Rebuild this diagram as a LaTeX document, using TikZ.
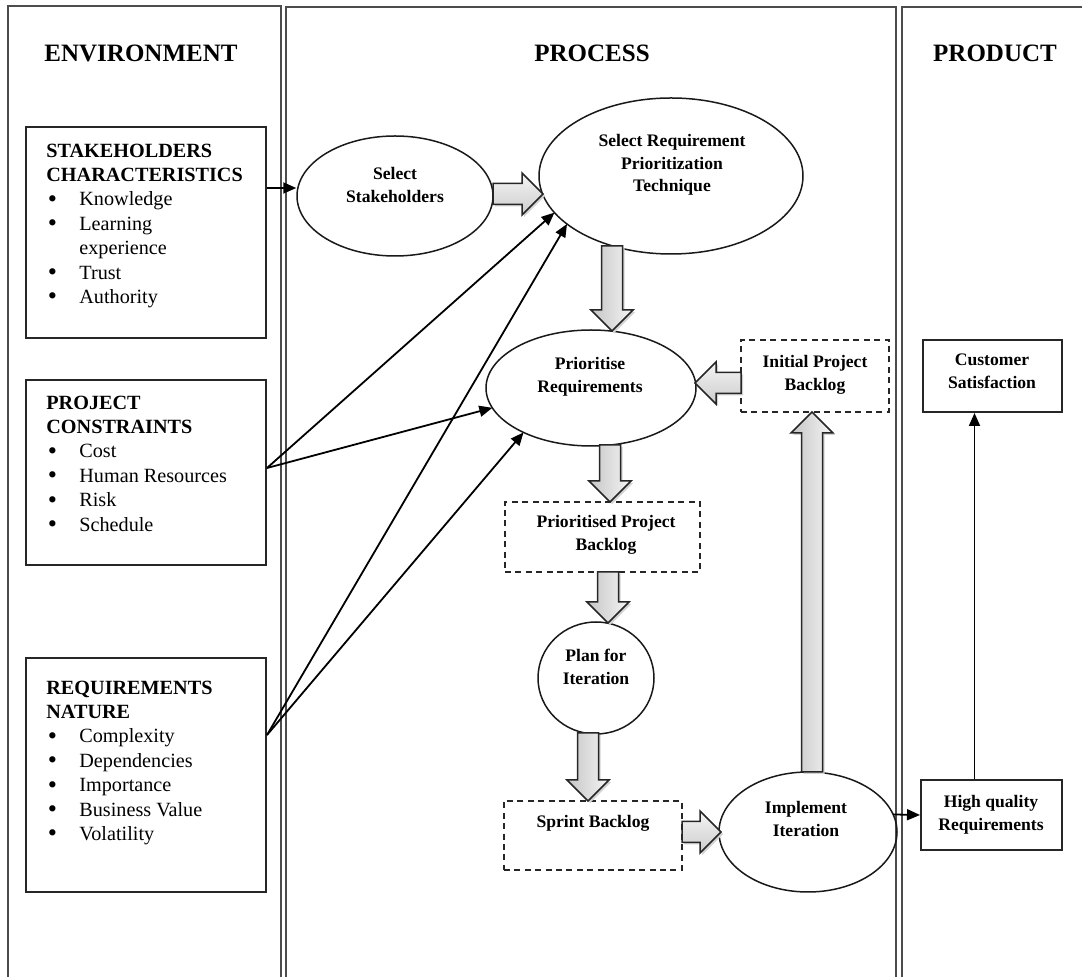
\documentclass[tikz,border=0pt]{standalone}
\usepackage{fontspec}
\setmainfont{Liberation Serif}
\usetikzlibrary{arrows.meta,calc,shapes.geometric,shadows}
\newcommand\bul{\hspace*{0.7pt}\makebox[15.8pt][l]{\raisebox{-0.7pt}{\scalebox{1.3}{\textbullet}}}}
\newcommand\barrow[3]{%
  \coordinate (hb) at ($(#2)!10.5pt!(#1)$);
  \fill[gray!35,transform canvas={shift={(1pt,-1pt)}}] ($(#1)!5.25pt!90:(#2)$) -- ($(hb)!5.25pt!-90:(#1)$) -- ($(hb)!10.5pt!-90:(#1)$) -- (#2) -- ($(hb)!10.5pt!90:(#1)$) -- ($(hb)!5.25pt!90:(#1)$) -- ($(#1)!5.25pt!-90:(#2)$) -- cycle;
  \draw[blockarrow,#3] ($(#1)!5.25pt!90:(#2)$) -- ($(hb)!5.25pt!-90:(#1)$) -- ($(hb)!10.5pt!-90:(#1)$) -- (#2) -- ($(hb)!10.5pt!90:(#1)$) -- ($(hb)!5.25pt!90:(#1)$) -- ($(#1)!5.25pt!-90:(#2)$) -- cycle;}
\tikzset{
 panel/.style={draw=black!70, line width=0.6pt},
 hdr/.style={font=\fontsize{12.5}{15}\selectfont\bfseries, inner sep=0},
 sbox/.style={draw=black!85, line width=1pt, rectangle, inner sep=0, fill=white,
   drop shadow={shadow xshift=0.6pt, shadow yshift=-0.6pt, fill=gray!70, opacity=0.6}},
 dbox/.style={draw=black!85, line width=0.8pt, dash pattern=on 3pt off 2.2pt, rectangle, inner sep=0},
 ell/.style={ellipse, draw=black!90, line width=0.75pt, inner sep=0},
 lbl/.style={font=\fontsize{8.8}{11.3}\selectfont\bfseries, align=center, inner sep=0},
 boxtxt/.style={font=\fontsize{10.1}{12.2}\selectfont, align=left, anchor=north west, inner sep=0},
 conn/.style={draw=black, line width=0.9pt, -{Triangle[length=6.5pt,width=5.5pt]}},
 blockarrow/.style={draw=black!85, line width=0.75pt, line join=miter},
 vshade/.style={left color=gray!45, right color=gray!8},
 hshade/.style={top color=gray!8, bottom color=gray!40},
}
\begin{document}
\begin{tikzpicture}[x=0.5pt,y=-0.5pt]
\useasboundingbox (0,0) rectangle (1082,977);
% panels
\draw[panel] (8,977) -- (8,6) -- (281,6) -- (281,977);
\draw[panel] (286,977) -- (286,7) -- (896,7) -- (896,977);
\draw[panel] (902,977) -- (902,7) -- (1082,7);
% headers
\node[hdr] (henv) at (141,53) {ENVIRONMENT};
\node[hdr] (hproc) at (592,53) {PROCESS};
\node[hdr] (hprod) at (995,53) {PRODUCT};
% environment boxes
\node[sbox, minimum width=120pt, minimum height=105.5pt] (sh) at (146,232.5) {};
\node[sbox, minimum width=120pt, minimum height=92.5pt] (pc) at (146,472.5) {};
\node[sbox, minimum width=120pt, minimum height=117pt] (rn) at (146,775) {};
\node[boxtxt] (sht) at (46,143.4) {\textbf{STAKEHOLDERS}\\\textbf{CHARACTERISTICS}\\\bul Knowledge\\\bul Learning\\\hspace*{16.5pt}experience\\\bul Trust\\\bul Authority};
\node[boxtxt] (pct) at (46,395.4) {\textbf{PROJECT}\\\textbf{CONSTRAINTS}\\\bul Cost\\\bul Human Resources\\\bul Risk\\\bul Schedule};
\node[boxtxt] (rnt) at (46,680.4) {\textbf{REQUIREMENTS}\\\textbf{NATURE}\\\bul Complexity\\\bul Dependencies\\\bul Importance\\\bul Business Value\\\bul Volatility};
% process ellipses
\node[ell, minimum width=98pt, minimum height=60pt] (ss) at (395,196) {};
\node[ell, minimum width=132pt, minimum height=78pt] (sr) at (671,176) {};
\node[ell, minimum width=105pt, minimum height=58pt] (pr) at (591,388) {};
\node[ell, minimum width=58pt, minimum height=56pt] (pi) at (596,678) {};
\node[ell, minimum width=89pt, minimum height=60pt] (ii) at (808,832) {};
% dashed boxes
\node[dbox, minimum width=74pt, minimum height=36pt] (ipb) at (815,376) {};
\node[dbox, minimum width=97.5pt, minimum height=35pt] (ppb) at (602.5,537) {};
\node[dbox, minimum width=89pt, minimum height=34.5pt] (sb) at (593,835.5) {};
% product boxes
\node[sbox, minimum width=69.5pt, minimum height=36pt] (cs) at (992.5,376) {};
\node[sbox, minimum width=70.5pt, minimum height=35pt] (hq) at (991.5,815) {};
% labels
\node[lbl] (sst) at (395,185) {Select\\Stakeholders};
\node[lbl] (srt) at (672,165) {Select Requirement\\Prioritization\\Technique};
\node[lbl] (prt) at (590,377) {Prioritise\\Requirements};
\node[lbl] (ppbt) at (606,535) {Prioritised Project\\Backlog};
\node[lbl] (pit) at (596,667) {Plan for\\Iteration};
\node[lbl] (sbt) at (593,823) {Sprint Backlog};
\node[lbl] (iit) at (806,819) {Implement\\Iteration};
\node[lbl] (ipbt) at (815,375) {Initial Project\\Backlog};
\node[lbl] (cst) at (992,371) {Customer\\Satisfaction};
\node[lbl] (hqt) at (991,815) {High quality\\Requirements};
% connectors
\coordinate (shout) at ($(sh.east)+(0,-44.5)$);
\coordinate (pcout) at ($(pc.east)+(0,-4.5)$);
\coordinate (rnout) at ($(rn.east)+(0,-40)$);
\draw[conn] (shout) -- (shout -| ss.west);
\draw[conn] (pcout) -- ($(sr)+(152:132 and 78)$);
\draw[conn] (pcout) -- ($(pr)+(160:105 and 58)$);
\draw[conn] (rnout) -- ($(sr)+(142:132 and 78)$);
\draw[conn] (rnout) -- ($(pr)+(130:105 and 58)$);
\draw[conn] ($(ii)+(-17:89 and 60)$) -- (hq.west);
\draw[conn] ($(hq.north)+(-17,0)$) coordinate (q1) -- (q1 |- cs.south);
% block arrows
\coordinate (a1s) at (612,246); \coordinate (a1e) at (612,331);
\coordinate (a2s) at (610,445); \coordinate (a2e) at (610,502);
\coordinate (a3s) at (608,572); \coordinate (a3e) at (608,623);
\coordinate (a4s) at (588,733); \coordinate (a4e) at (588,801);
\coordinate (a5s) at (812,772); \coordinate (a5e) at (812,412);
\coordinate (h1s) at (493,194); \coordinate (h1e) at (543,194);
\coordinate (h2s) at (741,383); \coordinate (h2e) at (695,383);
\coordinate (h3s) at (682,832); \coordinate (h3e) at (721,832);
\barrow{a1s}{a1e}{vshade}
\barrow{a2s}{a2e}{vshade}
\barrow{a3s}{a3e}{vshade}
\barrow{a4s}{a4e}{vshade}
\barrow{a5s}{a5e}{vshade}
\barrow{h1s}{h1e}{hshade}
\barrow{h2s}{h2e}{hshade}
\barrow{h3s}{h3e}{hshade}
\end{tikzpicture}
\end{document}
